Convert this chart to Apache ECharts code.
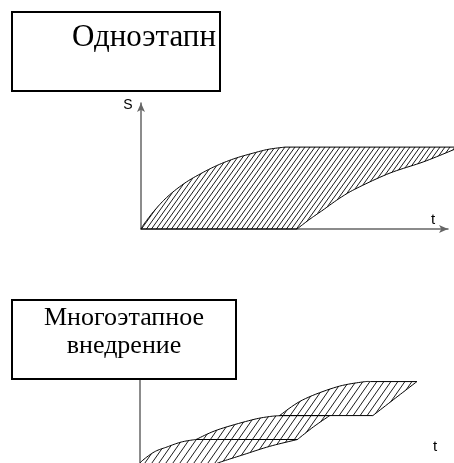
<!DOCTYPE html>
<html>
<head>
<meta charset="utf-8">
<script src="https://cdn.jsdelivr.net/npm/echarts@6/dist/echarts.min.js"></script>
<style>
  html, body { margin: 0; padding: 0; background: #fff; }
  #chart { width: 454px; height: 463px; }
</style>
</head>
<body>
<div id="chart"></div>
<script>
// single stage: rising curve, then lower curve (closing at the plateau end)
var singleUpper = [[0, 0], [0.1, 0.4], [0.45, 1.5], [0.88, 2.6], [1.43, 3.65], [1.99, 4.45], [2.51, 5.08], [3.06, 5.6], [3.62, 6.0], [4.14, 6.32], [4.69, 6.5]];
var singleLower = [[5.08, 0], [5.5, 0.78], [5.93, 1.51], [6.48, 2.46], [7.04, 3.25], [8.11, 4.44], [9.19, 5.32], [10.16, 6.27], [10.35, 6.5]];

// multi stage: three stages, each a rising curve and a right edge
var stage1Upper = [[0, 0], [0.03, 0.32], [0.46, 1.11], [0.88, 1.51], [1.34, 1.9], [1.8, 2.1]];
var stage1Lower = [[2.3, 0], [2.6, 0.3], [3.3, 0.85], [4.2, 1.55], [5.11, 2.1]];
var stage2Upper = [[1.82, 2.1], [2.51, 2.86], [3.62, 3.65], [4.2, 3.92], [4.59, 4.0]];
var stage2Lower = [[5.11, 2.1], [5.63, 3.1], [6.16, 4.0]];
var stage3Upper = [[4.53, 4.0], [5.28, 5.24], [6.38, 6.27], [7.23, 6.67], [7.5, 6.7]];
var stage3Lower = [[7.56, 4.0], [8.3, 5.4], [8.99, 6.7]];

var singleRegions = [[singleUpper, singleLower]];
var multiRegions = [[stage1Upper, stage1Lower], [stage2Upper, stage2Lower], [stage3Upper, stage3Lower]];

// Catmull-Rom sampling of screen points so the outline is drawn as a smooth curve
function spline(p, steps) {
    var out = [];
    if (p.length < 3) return p.slice();
    for (var i = 0; i < p.length - 1; i++) {
        var p0 = p[Math.max(i - 1, 0)], p1 = p[i], p2 = p[i + 1], p3 = p[Math.min(i + 2, p.length - 1)];
        for (var s = 0; s < steps; s++) {
            var t = s / steps, t2 = t * t, t3 = t2 * t;
            out.push([0, 1].map(function (k) {
                return 0.5 * ((2 * p1[k]) + (-p0[k] + p2[k]) * t + (2 * p0[k] - 5 * p1[k] + 4 * p2[k] - p3[k]) * t2 + (-p0[k] + 3 * p1[k] - 3 * p2[k] + p3[k]) * t3);
            }));
        }
    }
    out.push(p[p.length - 1]);
    return out;
}

function hatch(w, h) {
    var c = document.createElement('canvas');
    c.width = w;
    c.height = h;
    var ctx = c.getContext('2d');
    ctx.strokeStyle = '#000';
    ctx.lineWidth = 0.9;
    for (var k = -1; k <= 1; k++) {
        ctx.beginPath();
        ctx.moveTo(k * w - w, 2 * h);
        ctx.lineTo(k * w + 2 * w, -h);
        ctx.stroke();
    }
    return c;
}

function regionSeries(regions, idx, tile) {
    return {
        type: 'custom',
        xAxisIndex: idx,
        yAxisIndex: idx,
        clip: false,
        silent: true,
        data: regions.map(function (r, i) { return [i]; }),
        renderItem: function (params, api) {
            var r = regions[params.dataIndex];
            var upper = spline(r[0].map(function (p) { return api.coord(p); }), 10);
            var lower = spline(r[1].map(function (p) { return api.coord(p); }), 10).reverse();
            return {
                type: 'polygon',
                shape: { points: upper.concat(lower) },
                style: { fill: { image: tile, repeat: 'repeat' }, stroke: '#000', lineWidth: 1 }
            };
        }
    };
}

function valueAxis(idx, min, max) {
    return {
        type: 'value', gridIndex: idx, min: min, max: max,
        axisLine: {
            show: true,
            onZero: false,
            symbol: ['none', 'arrow'],
            symbolSize: [6, 9],
            lineStyle: { color: '#666', width: 1.5 }
        },
        axisTick: { show: false }, axisLabel: { show: false }, splitLine: { show: false }
    };
}

var myChart = echarts.init(document.getElementById('chart'));
var serif = '"Liberation Serif", "Times New Roman", serif';
var sans = '"Liberation Sans", Arial, sans-serif';
var option = {
    animation: false,
    backgroundColor: '#fff',
    grid: [
        { left: 141, top: 103, width: 307, height: 126, outerBoundsMode: 'none' },
        { left: 140, top: 340, width: 308, height: 130, outerBoundsMode: 'none' }
    ],
    xAxis: [valueAxis(0, 0, 10), valueAxis(1, 0, 10)],
    yAxis: [valueAxis(0, 0, 10), valueAxis(1, -0.32, 10)],
    series: [
        regionSeries(singleRegions, 0, hatch(5, 7)),
        regionSeries(multiRegions, 1, hatch(7, 10))
    ],
    graphic: [
        { type: 'rect', z: 100, shape: { x: 12, y: 12, width: 208, height: 79 }, style: { fill: '#fff', stroke: '#000', lineWidth: 2 } },
        { type: 'text', z: 101, x: 72, y: 38, style: { text: 'Одноэтапн', font: '31px ' + serif, fill: '#000', textVerticalAlign: 'middle' } },
        { type: 'rect', z: 100, shape: { x: 12, y: 300, width: 224, height: 79 }, style: { fill: '#fff', stroke: '#000', lineWidth: 2 } },
        { type: 'text', z: 101, x: 124, y: 318, style: { text: 'Многоэтапное', font: '26px ' + serif, fill: '#000', textAlign: 'center', textVerticalAlign: 'middle' } },
        { type: 'text', z: 101, x: 124, y: 346, style: { text: 'внедрение', font: '26px ' + serif, fill: '#000', textAlign: 'center', textVerticalAlign: 'middle' } },
        { type: 'text', z: 101, x: 128, y: 105, style: { text: 'S', font: '14px ' + sans, fill: '#000', textAlign: 'center', textVerticalAlign: 'middle' } },
        { type: 'text', z: 101, x: 433, y: 220, style: { text: 't', font: '15px ' + sans, fill: '#000', textAlign: 'center', textVerticalAlign: 'middle' } },
        { type: 'text', z: 101, x: 435, y: 447, style: { text: 't', font: '15px ' + sans, fill: '#000', textAlign: 'center', textVerticalAlign: 'middle' } }
    ]
};
myChart.setOption(option);
</script>
</body>
</html>
